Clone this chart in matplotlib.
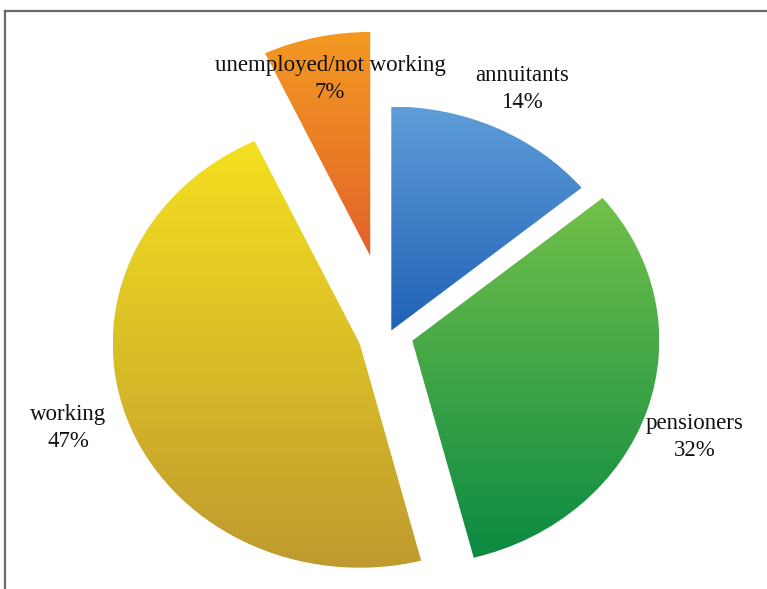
import numpy as np
import matplotlib
matplotlib.use("Agg")
import matplotlib.pyplot as plt
from matplotlib.lines import Line2D
from matplotlib.colors import LinearSegmentedColormap

# Household status shares (clockwise from 12 o'clock)
categories = ["annuitants", "pensioners", "working", "unemployed/not working"]
shares = [14, 32, 47, 7]
explode = [0.017, 0.097, 0.128, 0.357]

# top / bottom gradient colours for each slice
top_colors = ["#5f9dd8", "#72c04a", "#f4e020", "#f39a22"]
bottom_colors = ["#1f62b6", "#0b8a42", "#bf9a2f", "#e2622a"]

# label anchor points (axes fraction)
label_pos = [(522 / 767, 1 - 89 / 589), (695 / 767, 1 - 437 / 589),
             (68 / 767, 1 - 428 / 589), (330 / 767, 1 - 79 / 589)]

fig = plt.figure(figsize=(7.67, 5.89), dpi=100)
ax = fig.add_axes([0, 0, 1, 1])

wedges, _ = ax.pie(shares, explode=explode, startangle=90, counterclock=False,
                   radius=1.0, wedgeprops=dict(linewidth=0))

for w, c_top, c_bot in zip(wedges, top_colors, bottom_colors):
    w.set_facecolor("none")
    w.set_edgecolor("none")
    cx, cy = w.center
    th = np.radians(np.linspace(w.theta1, w.theta2, 200))
    ys = np.concatenate([[cy], cy + w.r * np.sin(th)])
    xs = np.concatenate([[cx], cx + w.r * np.cos(th)])
    cmap = LinearSegmentedColormap.from_list("g", [c_bot, c_top])
    grad = np.linspace(0, 1, 256).reshape(-1, 1)
    im = ax.imshow(grad, cmap=cmap, origin="lower", aspect="auto",
                   extent=[xs.min(), xs.max(), ys.min(), ys.max()],
                   interpolation="bilinear", zorder=1)
    im.set_clip_path(w)

ax.set_aspect("auto")
ax.set_xlim(-389.5 / 247, (767 - 389.5) / 247)
ax.set_ylim(-(589 - 334) / 224, 334 / 224)
ax.axis("off")

for name, val, (fx, fy) in zip(categories, shares, label_pos):
    ax.text(fx, fy, f"{name}\n{val}%", transform=ax.transAxes,
            ha="center", va="center", fontsize=16.5, family="Liberation Serif",
            color="#111111", linespacing=1.35, zorder=5)

# frame lines along the top and left edges
fig.add_artist(Line2D([5 / 767, 1.0], [1 - 10.5 / 589, 1 - 10.5 / 589],
                      transform=fig.transFigure, color="#6a6a6a", lw=1.6))
fig.add_artist(Line2D([5 / 767, 5 / 767], [0, 1 - 10.5 / 589],
                      transform=fig.transFigure, color="#6a6a6a", lw=1.6))

fig.savefig("out.png", dpi=100)
